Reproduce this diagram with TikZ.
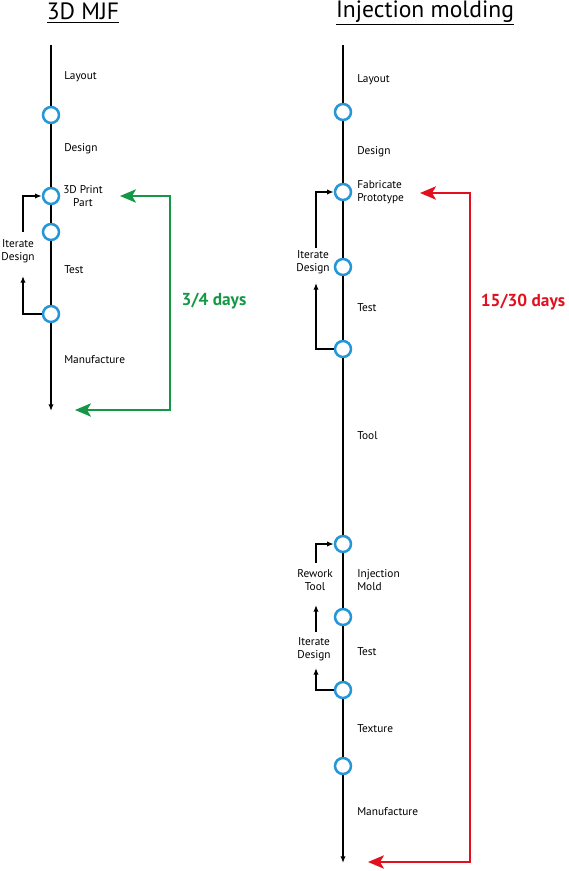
\documentclass[tikz,border=0pt]{standalone}
\usepackage{fontspec}
\setmainfont{PT Sans}
\usetikzlibrary{arrows.meta}
\definecolor{dotblue}{RGB}{37,150,216}
\definecolor{grn}{RGB}{20,152,70}
\definecolor{rd}{RGB}{226,16,31}
\begin{document}
\begin{tikzpicture}[x=0.75pt,y=-0.75pt,
  dot/.style={circle,draw=dotblue,fill=white,line width=1.9pt,minimum size=12pt,inner sep=0pt},
  lbl/.style={anchor=west,font=\fontsize{8.5}{9.8}\selectfont,inner sep=0pt,align=left},
  clbl/.style={font=\fontsize{8.5}{9.8}\selectfont,inner sep=0pt,align=center},
  ttl/.style={font=\fontsize{17.7}{21}\selectfont,inner sep=0pt},
  days/.style={font=\fontsize{13}{15}\selectfont\bfseries,inner sep=0pt},
  axis/.style={line width=1.1pt},
  loop/.style={line width=1.1pt,-{Latex[length=5pt,width=4pt]}},
  span/.style={line width=1.5pt,{Stealth[length=12pt,width=10pt,inset=3pt]}-{Stealth[length=12pt,width=10pt,inset=3pt]}}]
\useasboundingbox (0,0) rectangle (568,871);

% ---------- Left: 3D MJF ----------
\node[ttl] (t1) at (83,13) {\underline{3D MJF}};
\coordinate (ltop) at (51,45);
\coordinate (lbot) at (51,411);
\node[dot] (a1) at (51,115) {};
\node[dot] (a2) at (51,196) {};
\node[dot] (a3) at (51,232) {};
\node[dot] (a4) at (51,314) {};
\draw[axis] (ltop) -- (a1);
\draw[axis] (a1) -- (a2);
\draw[axis] (a2) -- (a3);
\draw[axis] (a3) -- (a4);
\draw[axis,-{Latex[length=5pt,width=4pt]}] (a4) -- (lbot);

\node[lbl] (la) at (64,77) {Layout};
\node[lbl] (lb) at (64,149) {Design};
\node[clbl] (lc) at (83,196) {3D Print\\Part};
\node[lbl] (ld) at (64,270) {Test};
\node[lbl] (le) at (64,360) {Manufacture};
\node[clbl] (lit) at (18,251) {Iterate\\Design};

\coordinate (l1) at (23,276);
\coordinate (l2) at (23,232);
\draw[loop] (a4.west) -| (l1);
\draw[loop] (l2) |- (a2.west);

\coordinate (gtip1) at (120,196);
\coordinate (gtip2) at (75,410);
\draw[span,grn] (gtip1) -- ++(50,0) |- (gtip2);
\node[days,text=grn] (gd) at (214,301) {3/4 days};

% ---------- Right: Injection molding ----------
\node[ttl] (t2) at (425,13) {\underline{Injection molding}};
\coordinate (rtop) at (343,45);
\coordinate (rbot) at (343,863);
\node[dot] (b1) at (343,112) {};
\node[dot] (b2) at (343,192) {};
\node[dot] (b3) at (343,267) {};
\node[dot] (b4) at (343,349) {};
\node[dot] (b5) at (343,544) {};
\node[dot] (b6) at (343,617) {};
\node[dot] (b7) at (343,690) {};
\node[dot] (b8) at (343,766) {};
\draw[axis] (rtop) -- (b1);
\draw[axis] (b1) -- (b2);
\draw[axis] (b2) -- (b3);
\draw[axis] (b3) -- (b4);
\draw[axis] (b4) -- (b5);
\draw[axis] (b5) -- (b6);
\draw[axis] (b6) -- (b7);
\draw[axis] (b7) -- (b8);
\draw[axis,-{Latex[length=5pt,width=4pt]}] (b8) -- (rbot);

\node[lbl] (ra) at (357,80) {Layout};
\node[lbl] (rb) at (357,152) {Design};
\node[lbl] (rc) at (357,192) {Fabricate\\Prototype};
\node[lbl] (rd1) at (357,308) {Test};
\node[lbl] (re) at (357,436) {Tool};
\node[lbl] (rf) at (357,580) {Injection\\Mold};
\node[lbl] (rg) at (357,652) {Test};
\node[lbl] (rh) at (357,729) {Texture};
\node[lbl] (ri) at (357,812) {Manufacture};

\node[clbl] (rit1) at (313,262) {Iterate\\Design};
\node[clbl] (rrw) at (315,580) {Rework\\Tool};
\node[clbl] (rit2) at (314,649) {Iterate\\Design};

\coordinate (m1) at (316,283);
\coordinate (m2) at (316,248);
\draw[loop] (b4.west) -| (m1);
\draw[loop] (m2) |- (b2.west);

\coordinate (m3) at (316,563);
\draw[loop] (m3) |- (b5.west);
\coordinate (m4) at (316,632);
\coordinate (m5) at (316,605);
\draw[loop] (m4) -- (m5);
\coordinate (m6) at (316,668);
\draw[loop] (b7.west) -| (m6);

\coordinate (rtip1) at (420,193);
\coordinate (rtip2) at (368,862);
\draw[span,rd] (rtip1) -- ++(50,0) |- (rtip2);
\node[days,text=rd] (rdd) at (523,302) {15/30 days};
\end{tikzpicture}
\end{document}
